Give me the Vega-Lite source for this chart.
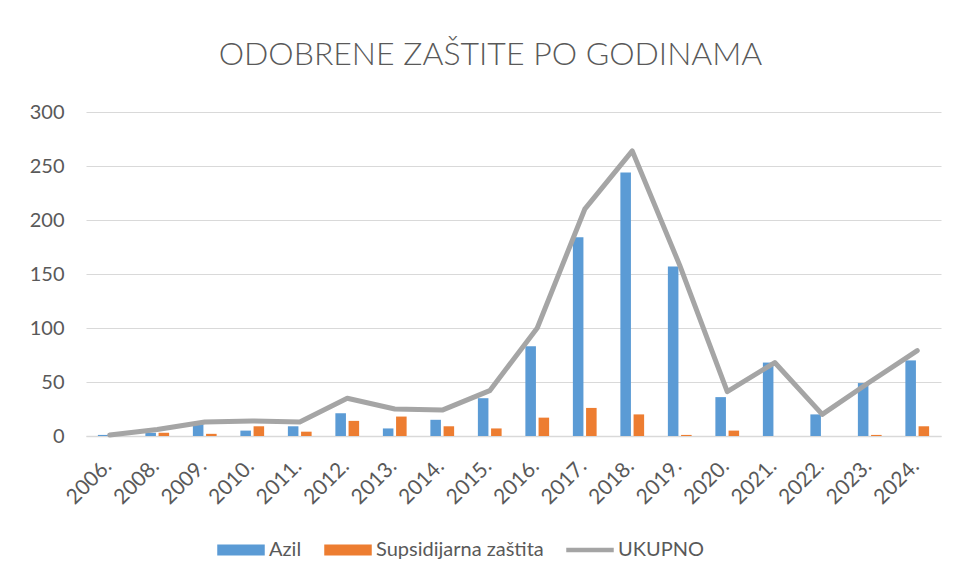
{
  "$schema": "https://vega.github.io/schema/vega-lite/v6.json",
  "width": 855,
  "height": 324,
  "autosize": {"type": "none"},
  "padding": {"left": 86, "top": 112, "right": 16, "bottom": 146},
  "background": "white",
  "title": {"text": "ODOBRENE ZAŠTITE PO GODINAMA", "font": "Lato", "fontSize": 32, "fontWeight": 300, "color": "#595959", "anchor": "middle", "frame": "group", "dx": -23, "offset": 30},
  "config": {"view": {"stroke": null}},
  "data": {"values": [
    {"godina": "2006.", "serija": "Azil", "broj": 1},
    {"godina": "2006.", "serija": "Supsidijarna zaštita", "broj": 0},
    {"godina": "2006.", "serija": "UKUPNO", "broj": 1},
    {"godina": "2008.", "serija": "Azil", "broj": 3},
    {"godina": "2008.", "serija": "Supsidijarna zaštita", "broj": 3},
    {"godina": "2008.", "serija": "UKUPNO", "broj": 6},
    {"godina": "2009.", "serija": "Azil", "broj": 11},
    {"godina": "2009.", "serija": "Supsidijarna zaštita", "broj": 2},
    {"godina": "2009.", "serija": "UKUPNO", "broj": 13},
    {"godina": "2010.", "serija": "Azil", "broj": 5},
    {"godina": "2010.", "serija": "Supsidijarna zaštita", "broj": 9},
    {"godina": "2010.", "serija": "UKUPNO", "broj": 14},
    {"godina": "2011.", "serija": "Azil", "broj": 9},
    {"godina": "2011.", "serija": "Supsidijarna zaštita", "broj": 4},
    {"godina": "2011.", "serija": "UKUPNO", "broj": 13},
    {"godina": "2012.", "serija": "Azil", "broj": 21},
    {"godina": "2012.", "serija": "Supsidijarna zaštita", "broj": 14},
    {"godina": "2012.", "serija": "UKUPNO", "broj": 35},
    {"godina": "2013.", "serija": "Azil", "broj": 7},
    {"godina": "2013.", "serija": "Supsidijarna zaštita", "broj": 18},
    {"godina": "2013.", "serija": "UKUPNO", "broj": 25},
    {"godina": "2014.", "serija": "Azil", "broj": 15},
    {"godina": "2014.", "serija": "Supsidijarna zaštita", "broj": 9},
    {"godina": "2014.", "serija": "UKUPNO", "broj": 24},
    {"godina": "2015.", "serija": "Azil", "broj": 35},
    {"godina": "2015.", "serija": "Supsidijarna zaštita", "broj": 7},
    {"godina": "2015.", "serija": "UKUPNO", "broj": 42},
    {"godina": "2016.", "serija": "Azil", "broj": 83},
    {"godina": "2016.", "serija": "Supsidijarna zaštita", "broj": 17},
    {"godina": "2016.", "serija": "UKUPNO", "broj": 100},
    {"godina": "2017.", "serija": "Azil", "broj": 184},
    {"godina": "2017.", "serija": "Supsidijarna zaštita", "broj": 26},
    {"godina": "2017.", "serija": "UKUPNO", "broj": 210},
    {"godina": "2018.", "serija": "Azil", "broj": 244},
    {"godina": "2018.", "serija": "Supsidijarna zaštita", "broj": 20},
    {"godina": "2018.", "serija": "UKUPNO", "broj": 264},
    {"godina": "2019.", "serija": "Azil", "broj": 157},
    {"godina": "2019.", "serija": "Supsidijarna zaštita", "broj": 1},
    {"godina": "2019.", "serija": "UKUPNO", "broj": 158},
    {"godina": "2020.", "serija": "Azil", "broj": 36},
    {"godina": "2020.", "serija": "Supsidijarna zaštita", "broj": 5},
    {"godina": "2020.", "serija": "UKUPNO", "broj": 41},
    {"godina": "2021.", "serija": "Azil", "broj": 68},
    {"godina": "2021.", "serija": "Supsidijarna zaštita", "broj": 0},
    {"godina": "2021.", "serija": "UKUPNO", "broj": 68},
    {"godina": "2022.", "serija": "Azil", "broj": 20},
    {"godina": "2022.", "serija": "Supsidijarna zaštita", "broj": 0},
    {"godina": "2022.", "serija": "UKUPNO", "broj": 20},
    {"godina": "2023.", "serija": "Azil", "broj": 49},
    {"godina": "2023.", "serija": "Supsidijarna zaštita", "broj": 1},
    {"godina": "2023.", "serija": "UKUPNO", "broj": 50},
    {"godina": "2024.", "serija": "Azil", "broj": 70},
    {"godina": "2024.", "serija": "Supsidijarna zaštita", "broj": 9},
    {"godina": "2024.", "serija": "UKUPNO", "broj": 79}
  ]},
  "encoding": {
    "x": {
      "field": "godina", "type": "ordinal", "sort": null,
      "scale": {"paddingInner": 0.5, "paddingOuter": 0.25},
      "axis": {"title": null, "labelAngle": -45, "labelFont": "Lato", "labelFontSize": 21, "labelColor": "#595959", "labelPadding": 19, "labelOffset": -9, "ticks": false, "domainColor": "#D9D9D9", "domainWidth": 1.5, "grid": false}
    },
    "y": {
      "field": "broj", "type": "quantitative",
      "scale": {"domain": [0, 300], "nice": false},
      "axis": {"title": null, "values": [0, 50, 100, 150, 200, 250, 300], "labelFont": "Lato", "labelFontSize": 20, "labelColor": "#595959", "labelPadding": 22, "ticks": false, "domain": false, "gridColor": "#D9D9D9", "gridWidth": 1.2}
    },
    "color": {
      "field": "serija", "type": "nominal",
      "scale": {"domain": ["Azil", "Supsidijarna zaštita", "UKUPNO"], "range": ["#5B9BD5", "#ED7D31", "#A5A5A5"]},
      "legend": {
        "title": null, "orient": "none", "legendX": 131, "legendY": 414, "direction": "horizontal",
        "labelFont": "Lato", "labelFontSize": 20, "labelColor": "#595959", "labelLimit": 400,
        "symbolSize": 2116, "columnPadding": 20, "labelOffset": 4,
        "symbolType": "M-1,-0.21H1V0.21H-1Z",
        "encode": {"symbols": {"update": {
          "shape": {"signal": "datum.value === 'UKUPNO' ? 'M-1,-0.06H1V0.06H-1Z' : 'M-1,-0.21H1V0.21H-1Z'"},
          "fill": {"scale": "color", "field": "value"},
          "stroke": {"value": "transparent"},
          "opacity": {"value": 1},
          "fillOpacity": {"value": 1}
        }}}
      }
    }
  },
  "layer": [
    {
      "transform": [{"filter": "datum.serija !== 'UKUPNO'"}],
      "mark": {"type": "bar"},
      "encoding": {
        "xOffset": {"field": "serija", "type": "nominal", "sort": ["Azil", "Supsidijarna zaštita"], "scale": {"paddingInner": 0.2}}
      }
    },
    {
      "transform": [{"filter": "datum.serija === 'UKUPNO'"}],
      "mark": {"type": "line", "strokeWidth": 5, "strokeCap": "round", "strokeJoin": "round"},
      "encoding": {}
    }
  ]
}
